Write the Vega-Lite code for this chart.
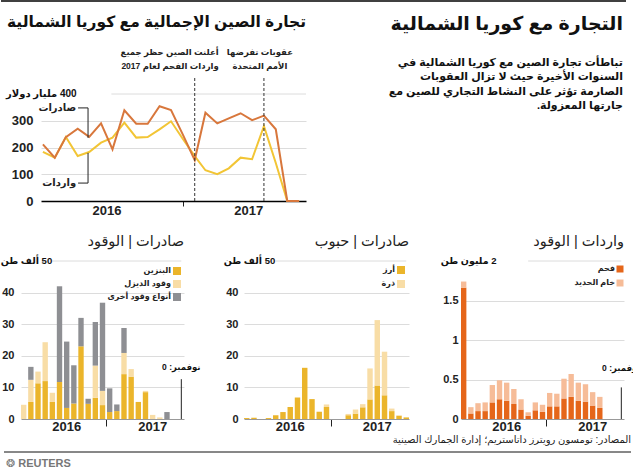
{
  "$schema": "https://vega.github.io/schema/vega-lite/v6.json",
  "padding": 0,
  "background": "#ffffff",
  "config": {"font": "Liberation Sans, DejaVu Sans, sans-serif", "view": {"stroke": null}},
  "datasets": {
    "trade": [
      {"d": "2016-01-01", "exp": 212, "imp": 184},
      {"d": "2016-02-01", "exp": 162, "imp": 162},
      {"d": "2016-03-01", "exp": 239, "imp": 239},
      {"d": "2016-04-01", "exp": 270, "imp": 168},
      {"d": "2016-05-01", "exp": 240, "imp": 183},
      {"d": "2016-06-01", "exp": 290, "imp": 218},
      {"d": "2016-07-01", "exp": 193, "imp": 237},
      {"d": "2016-08-01", "exp": 339, "imp": 293},
      {"d": "2016-09-01", "exp": 289, "imp": 237},
      {"d": "2016-10-01", "exp": 289, "imp": 239},
      {"d": "2016-11-01", "exp": 354, "imp": 268},
      {"d": "2016-12-01", "exp": 340, "imp": 298},
      {"d": "2017-01-01", "exp": 248, "imp": 232},
      {"d": "2017-02-01", "exp": 153, "imp": 168},
      {"d": "2017-03-01", "exp": 330, "imp": 115},
      {"d": "2017-04-01", "exp": 290, "imp": 100},
      {"d": "2017-05-01", "exp": 309, "imp": 122},
      {"d": "2017-06-01", "exp": 328, "imp": 162},
      {"d": "2017-07-01", "exp": 302, "imp": 156},
      {"d": "2017-08-01", "exp": 319, "imp": 280},
      {"d": "2017-09-01", "exp": 268, "imp": 142},
      {"d": "2017-10-01", "exp": 0, "imp": 0},
      {"d": "2017-11-01", "exp": 0, "imp": 0}
    ],
    "mon": [
      {"m": "2016-01", "gas": 0, "diesel": 4.5, "other": 0, "rice": 0.3, "corn": 0, "coal": 1.66, "iron": 0.08},
      {"m": "2016-02", "gas": 5.4, "diesel": 7.0, "other": 4.1, "rice": 0.4, "corn": 0, "coal": 0.07, "iron": 0.08},
      {"m": "2016-03", "gas": 11.3, "diesel": 3.7, "other": 0, "rice": 0, "corn": 0, "coal": 0.10, "iron": 0.10},
      {"m": "2016-04", "gas": 12.0, "diesel": 12.3, "other": 0, "rice": 0.3, "corn": 0, "coal": 0.10, "iron": 0.11},
      {"m": "2016-05", "gas": 5.4, "diesel": 2.9, "other": 0, "rice": 1.2, "corn": 0, "coal": 0.21, "iron": 0.22},
      {"m": "2016-06", "gas": 11.7, "diesel": 0, "other": 30.3, "rice": 2.2, "corn": 0, "coal": 0.25, "iron": 0.24},
      {"m": "2016-07", "gas": 3.5, "diesel": 0, "other": 21.0, "rice": 3.8, "corn": 0, "coal": 0.23, "iron": 0.23},
      {"m": "2016-08", "gas": 4.9, "diesel": 0, "other": 12.1, "rice": 6.8, "corn": 0, "coal": 0.19, "iron": 0.19},
      {"m": "2016-09", "gas": 23.0, "diesel": 0, "other": 9.0, "rice": 16.2, "corn": 0, "coal": 0.12, "iron": 0.13},
      {"m": "2016-10", "gas": 4.8, "diesel": 0, "other": 1.6, "rice": 6.3, "corn": 0, "coal": 0.04, "iron": 0.045},
      {"m": "2016-11", "gas": 6.7, "diesel": 10.2, "other": 13.8, "rice": 2.3, "corn": 0, "coal": 0.11, "iron": 0.10},
      {"m": "2016-12", "gas": 4.4, "diesel": 4.5, "other": 27.9, "rice": 3.8, "corn": 0.8, "coal": 0.09, "iron": 0.09},
      {"m": "2017-01", "gas": 2.2, "diesel": 0, "other": 7.5, "rice": 0, "corn": 0, "coal": 0.16, "iron": 0.17},
      {"m": "2017-02", "gas": 2.5, "diesel": 0, "other": 2.1, "rice": 0, "corn": 0, "coal": 0.16, "iron": 0.16},
      {"m": "2017-03", "gas": 14.2, "diesel": 6.7, "other": 7.9, "rice": 1.2, "corn": 0.4, "coal": 0.26, "iron": 0.25},
      {"m": "2017-04", "gas": 13.4, "diesel": 2.4, "other": 0, "rice": 1.7, "corn": 1.3, "coal": 0.28, "iron": 0.29},
      {"m": "2017-05", "gas": 5.4, "diesel": 0, "other": 0, "rice": 3.7, "corn": 1.0, "coal": 0.23, "iron": 0.23},
      {"m": "2017-06", "gas": 8.5, "diesel": 0.4, "other": 0, "rice": 6.2, "corn": 9.8, "coal": 0.22, "iron": 0.22},
      {"m": "2017-07", "gas": 0, "diesel": 1.3, "other": 0, "rice": 10.6, "corn": 20.7, "coal": 0.17, "iron": 0.17},
      {"m": "2017-08", "gas": 0, "diesel": 0.5, "other": 0, "rice": 7.5, "corn": 13.8, "coal": 0.14, "iron": 0.14},
      {"m": "2017-09", "gas": 0, "diesel": 0, "other": 2.2, "rice": 2.5, "corn": 0.8, "coal": 0, "iron": 0},
      {"m": "2017-10", "gas": 0, "diesel": 0, "other": 0, "rice": 1.0, "corn": 0.2, "coal": 0, "iron": 0},
      {"m": "2017-11", "gas": 0, "diesel": 0, "other": 0, "rice": 0.5, "corn": 0, "coal": 0, "iron": 0}
    ]
  },
  "bounds": "flush",
  "spacing": 0,
  "resolve": {"scale": {"x": "independent", "y": "independent", "color": "independent"}},
  "vconcat": [
    {"width": 605, "height": 93, "data": {"values": [{}]}, "mark": {"type": "rule", "color": "#000000", "strokeWidth": 1.5},
      "encoding": {"x": {"datum": -20, "type": "quantitative", "scale": {"domain": [0, 605], "nice": false, "zero": false}, "axis": null}, "x2": {"datum": 605},
        "y": {"datum": 1, "type": "quantitative", "scale": {"domain": [0, 1]}, "axis": null}}},
    {
      "bounds": "flush",
      "spacing": 0,
      "resolve": {"scale": {"x": "independent", "y": "independent", "color": "independent"}},
      "hconcat": [
        {"width": 20, "height": 107, "data": {"values": []}, "mark": "point", "encoding": {}},
        {
          "width": 265, "height": 107,
          "title": {"text": "تجارة الصين الإجمالية مع كوريا الشمالية", "anchor": "end", "frame": "group", "orient": "top", "offset": 17, "fontSize": 15.5, "fontWeight": "bold", "color": "#111111"},
          "layer": [
            {"data": {"name": "trade"},
              "transform": [{"calculate": "time(toDate(datum.d))", "as": "t"}, {"fold": ["imp", "exp"]}],
              "mark": {"type": "line", "strokeWidth": 2},
              "encoding": {
                "x": {"field": "t", "type": "quantitative", "scale": {"domain": [1451174400000, 1511049600000], "nice": false, "zero": false},
                  "axis": {"title": null, "values": [1465948800000, 1483228800000, 1498003200000], "labelExpr": "utcmonth(datum.value) == 0 ? '' : utcFormat(datum.value, '%Y')", "tickOpacity": {"condition": {"test": "utcmonth(datum.value) == 0", "value": 1}, "value": 0}, "ticks": true, "tickSize": 5, "tickColor": "#222222", "domain": true, "domainColor": "#000000", "domainWidth": 1.5, "grid": false, "labelFontSize": 13, "labelFontWeight": "bold", "labelColor": "#222222", "labelPadding": -2, "labelFlush": false, "labelOverlap": false}},
                "y": {"field": "value", "type": "quantitative", "scale": {"domain": [0, 400], "nice": false},
                  "axis": {"title": null, "values": [0, 100, 200, 300, 400], "tickCount": 5, "labelExpr": "datum.value == 400 ? '' : datum.label", "labelOverlap": false, "labelFontSize": 13, "labelFontWeight": "bold", "labelColor": "#222222", "labelPadding": 8, "domain": false, "ticks": false, "grid": true, "gridColor": "#dcdcdc", "gridOpacity": {"condition": {"test": "datum.value == 400 || datum.value == 0", "value": 0}, "value": 1}}},
                "color": {"field": "key", "type": "nominal", "scale": {"domain": ["imp", "exp"], "range": ["#f2c535", "#d8773c"]}, "legend": null}
              }},
            {"data": {"values": [{}]}, "mark": {"type": "rule", "color": "#dcdcdc", "strokeWidth": 1},
              "encoding": {
                "x": {"datum": 1467072000000, "type": "quantitative", "axis": {"title": null, "values": [1465948800000, 1483228800000, 1498003200000], "labelExpr": "utcmonth(datum.value) == 0 ? '' : utcFormat(datum.value, '%Y')", "tickOpacity": {"condition": {"test": "utcmonth(datum.value) == 0", "value": 1}, "value": 0}, "ticks": true, "tickSize": 5, "tickColor": "#222222", "domain": true, "domainColor": "#000000", "domainWidth": 1.5, "grid": false, "labelFontSize": 13, "labelFontWeight": "bold", "labelColor": "#222222", "labelPadding": -2, "labelFlush": false, "labelOverlap": false}},
                "x2": {"datum": 1511049600000},
                "y": {"datum": 400, "type": "quantitative", "axis": {"title": null, "values": [0, 100, 200, 300, 400], "tickCount": 5, "labelExpr": "datum.value == 400 ? '' : datum.label", "labelOverlap": false, "labelFontSize": 13, "labelFontWeight": "bold", "labelColor": "#222222", "labelPadding": 8, "domain": false, "ticks": false, "grid": true, "gridColor": "#dcdcdc", "gridOpacity": {"condition": {"test": "datum.value == 400 || datum.value == 0", "value": 0}, "value": 1}}}}},
            {"data": {"values": [{}]}, "mark": {"type": "rule", "color": "#333333", "strokeWidth": 1, "strokeDash": [3, 2]},
              "encoding": {
                "x": {"datum": 1485907200000, "type": "quantitative", "axis": {"title": null, "values": [1465948800000, 1483228800000, 1498003200000], "labelExpr": "utcmonth(datum.value) == 0 ? '' : utcFormat(datum.value, '%Y')", "tickOpacity": {"condition": {"test": "utcmonth(datum.value) == 0", "value": 1}, "value": 0}, "ticks": true, "tickSize": 5, "tickColor": "#222222", "domain": true, "domainColor": "#000000", "domainWidth": 1.5, "grid": false, "labelFontSize": 13, "labelFontWeight": "bold", "labelColor": "#222222", "labelPadding": -2, "labelFlush": false, "labelOverlap": false}},
                "y": {"datum": 0, "type": "quantitative", "axis": {"title": null, "values": [0, 100, 200, 300, 400], "tickCount": 5, "labelExpr": "datum.value == 400 ? '' : datum.label", "labelOverlap": false, "labelFontSize": 13, "labelFontWeight": "bold", "labelColor": "#222222", "labelPadding": 8, "domain": false, "ticks": false, "grid": true, "gridColor": "#dcdcdc", "gridOpacity": {"condition": {"test": "datum.value == 400 || datum.value == 0", "value": 0}, "value": 1}}},
                "y2": {"datum": 467}}},
            {"data": {"values": [{}]}, "mark": {"type": "rule", "color": "#333333", "strokeWidth": 1, "strokeDash": [3, 2]},
              "encoding": {
                "x": {"datum": 1501545600000, "type": "quantitative", "axis": {"title": null, "values": [1465948800000, 1483228800000, 1498003200000], "labelExpr": "utcmonth(datum.value) == 0 ? '' : utcFormat(datum.value, '%Y')", "tickOpacity": {"condition": {"test": "utcmonth(datum.value) == 0", "value": 1}, "value": 0}, "ticks": true, "tickSize": 5, "tickColor": "#222222", "domain": true, "domainColor": "#000000", "domainWidth": 1.5, "grid": false, "labelFontSize": 13, "labelFontWeight": "bold", "labelColor": "#222222", "labelPadding": -2, "labelFlush": false, "labelOverlap": false}},
                "y": {"datum": 0, "type": "quantitative", "axis": {"title": null, "values": [0, 100, 200, 300, 400], "tickCount": 5, "labelExpr": "datum.value == 400 ? '' : datum.label", "labelOverlap": false, "labelFontSize": 13, "labelFontWeight": "bold", "labelColor": "#222222", "labelPadding": 8, "domain": false, "ticks": false, "grid": true, "gridColor": "#dcdcdc", "gridOpacity": {"condition": {"test": "datum.value == 400 || datum.value == 0", "value": 0}, "value": 1}}},
                "y2": {"datum": 467}}},
            {"data": {"values": [{}]}, "mark": {"type": "rule", "color": "#222222", "strokeWidth": 1},
              "encoding": {
                "x": {"datum": 1461801600000, "type": "quantitative", "axis": {"title": null, "values": [1465948800000, 1483228800000, 1498003200000], "labelExpr": "utcmonth(datum.value) == 0 ? '' : utcFormat(datum.value, '%Y')", "tickOpacity": {"condition": {"test": "utcmonth(datum.value) == 0", "value": 1}, "value": 0}, "ticks": true, "tickSize": 5, "tickColor": "#222222", "domain": true, "domainColor": "#000000", "domainWidth": 1.5, "grid": false, "labelFontSize": 13, "labelFontWeight": "bold", "labelColor": "#222222", "labelPadding": -2, "labelFlush": false, "labelOverlap": false}},
                "y": {"datum": 348, "type": "quantitative", "axis": {"title": null, "values": [0, 100, 200, 300, 400], "tickCount": 5, "labelExpr": "datum.value == 400 ? '' : datum.label", "labelOverlap": false, "labelFontSize": 13, "labelFontWeight": "bold", "labelColor": "#222222", "labelPadding": 8, "domain": false, "ticks": false, "grid": true, "gridColor": "#dcdcdc", "gridOpacity": {"condition": {"test": "datum.value == 400 || datum.value == 0", "value": 0}, "value": 1}}},
                "y2": {"datum": 236}}},
            {"data": {"values": [{}]}, "mark": {"type": "rule", "color": "#222222", "strokeWidth": 1},
              "encoding": {
                "x": {"datum": 1459555200000, "type": "quantitative", "axis": {"title": null, "values": [1465948800000, 1483228800000, 1498003200000], "labelExpr": "utcmonth(datum.value) == 0 ? '' : utcFormat(datum.value, '%Y')", "tickOpacity": {"condition": {"test": "utcmonth(datum.value) == 0", "value": 1}, "value": 0}, "ticks": true, "tickSize": 5, "tickColor": "#222222", "domain": true, "domainColor": "#000000", "domainWidth": 1.5, "grid": false, "labelFontSize": 13, "labelFontWeight": "bold", "labelColor": "#222222", "labelPadding": -2, "labelFlush": false, "labelOverlap": false}},
                "x2": {"datum": 1461801600000},
                "y": {"datum": 348, "type": "quantitative", "axis": {"title": null, "values": [0, 100, 200, 300, 400], "tickCount": 5, "labelExpr": "datum.value == 400 ? '' : datum.label", "labelOverlap": false, "labelFontSize": 13, "labelFontWeight": "bold", "labelColor": "#222222", "labelPadding": 8, "domain": false, "ticks": false, "grid": true, "gridColor": "#dcdcdc", "gridOpacity": {"condition": {"test": "datum.value == 400 || datum.value == 0", "value": 0}, "value": 1}}}}},
            {"data": {"values": [{}]}, "mark": {"type": "rule", "color": "#222222", "strokeWidth": 1},
              "encoding": {
                "x": {"datum": 1461801600000, "type": "quantitative", "axis": {"title": null, "values": [1465948800000, 1483228800000, 1498003200000], "labelExpr": "utcmonth(datum.value) == 0 ? '' : utcFormat(datum.value, '%Y')", "tickOpacity": {"condition": {"test": "utcmonth(datum.value) == 0", "value": 1}, "value": 0}, "ticks": true, "tickSize": 5, "tickColor": "#222222", "domain": true, "domainColor": "#000000", "domainWidth": 1.5, "grid": false, "labelFontSize": 13, "labelFontWeight": "bold", "labelColor": "#222222", "labelPadding": -2, "labelFlush": false, "labelOverlap": false}},
                "y": {"datum": 67, "type": "quantitative", "axis": {"title": null, "values": [0, 100, 200, 300, 400], "tickCount": 5, "labelExpr": "datum.value == 400 ? '' : datum.label", "labelOverlap": false, "labelFontSize": 13, "labelFontWeight": "bold", "labelColor": "#222222", "labelPadding": 8, "domain": false, "ticks": false, "grid": true, "gridColor": "#dcdcdc", "gridOpacity": {"condition": {"test": "datum.value == 400 || datum.value == 0", "value": 0}, "value": 1}}},
                "y2": {"datum": 180}}},
            {"data": {"values": [{}]}, "mark": {"type": "rule", "color": "#222222", "strokeWidth": 1},
              "encoding": {
                "x": {"datum": 1459555200000, "type": "quantitative", "axis": {"title": null, "values": [1465948800000, 1483228800000, 1498003200000], "labelExpr": "utcmonth(datum.value) == 0 ? '' : utcFormat(datum.value, '%Y')", "tickOpacity": {"condition": {"test": "utcmonth(datum.value) == 0", "value": 1}, "value": 0}, "ticks": true, "tickSize": 5, "tickColor": "#222222", "domain": true, "domainColor": "#000000", "domainWidth": 1.5, "grid": false, "labelFontSize": 13, "labelFontWeight": "bold", "labelColor": "#222222", "labelPadding": -2, "labelFlush": false, "labelOverlap": false}},
                "x2": {"datum": 1461801600000},
                "y": {"datum": 67, "type": "quantitative", "axis": {"title": null, "values": [0, 100, 200, 300, 400], "tickCount": 5, "labelExpr": "datum.value == 400 ? '' : datum.label", "labelOverlap": false, "labelFontSize": 13, "labelFontWeight": "bold", "labelColor": "#222222", "labelPadding": 8, "domain": false, "ticks": false, "grid": true, "gridColor": "#dcdcdc", "gridOpacity": {"condition": {"test": "datum.value == 400 || datum.value == 0", "value": 0}, "value": 1}}}}},
            {"data": {"values": [{}]}, "mark": {"type": "text", "align": "right", "baseline": "middle", "fontSize": 10, "fontWeight": "bold", "color": "#222222"},
              "encoding": {
                "x": {"datum": 1459123200000, "type": "quantitative", "axis": {"title": null, "values": [1465948800000, 1483228800000, 1498003200000], "labelExpr": "utcmonth(datum.value) == 0 ? '' : utcFormat(datum.value, '%Y')", "tickOpacity": {"condition": {"test": "utcmonth(datum.value) == 0", "value": 1}, "value": 0}, "ticks": true, "tickSize": 5, "tickColor": "#222222", "domain": true, "domainColor": "#000000", "domainWidth": 1.5, "grid": false, "labelFontSize": 13, "labelFontWeight": "bold", "labelColor": "#222222", "labelPadding": -2, "labelFlush": false, "labelOverlap": false}},
                "y": {"datum": 348, "type": "quantitative", "axis": {"title": null, "values": [0, 100, 200, 300, 400], "tickCount": 5, "labelExpr": "datum.value == 400 ? '' : datum.label", "labelOverlap": false, "labelFontSize": 13, "labelFontWeight": "bold", "labelColor": "#222222", "labelPadding": 8, "domain": false, "ticks": false, "grid": true, "gridColor": "#dcdcdc", "gridOpacity": {"condition": {"test": "datum.value == 400 || datum.value == 0", "value": 0}, "value": 1}}},
                "text": {"value": "صادرات"}}},
            {"data": {"values": [{}]}, "mark": {"type": "text", "align": "right", "baseline": "middle", "fontSize": 10, "fontWeight": "bold", "color": "#222222"},
              "encoding": {
                "x": {"datum": 1459123200000, "type": "quantitative", "axis": {"title": null, "values": [1465948800000, 1483228800000, 1498003200000], "labelExpr": "utcmonth(datum.value) == 0 ? '' : utcFormat(datum.value, '%Y')", "tickOpacity": {"condition": {"test": "utcmonth(datum.value) == 0", "value": 1}, "value": 0}, "ticks": true, "tickSize": 5, "tickColor": "#222222", "domain": true, "domainColor": "#000000", "domainWidth": 1.5, "grid": false, "labelFontSize": 13, "labelFontWeight": "bold", "labelColor": "#222222", "labelPadding": -2, "labelFlush": false, "labelOverlap": false}},
                "y": {"datum": 67, "type": "quantitative", "axis": {"title": null, "values": [0, 100, 200, 300, 400], "tickCount": 5, "labelExpr": "datum.value == 400 ? '' : datum.label", "labelOverlap": false, "labelFontSize": 13, "labelFontWeight": "bold", "labelColor": "#222222", "labelPadding": 8, "domain": false, "ticks": false, "grid": true, "gridColor": "#dcdcdc", "gridOpacity": {"condition": {"test": "datum.value == 400 || datum.value == 0", "value": 0}, "value": 1}}},
                "text": {"value": "واردات"}}},
            {"data": {"values": [{}]}, "mark": {"type": "text", "align": "left", "baseline": "middle", "fontSize": 10, "fontWeight": "bold", "color": "#111111", "dx": -35},
              "encoding": {
                "x": {"datum": 1451174400000, "type": "quantitative", "axis": {"title": null, "values": [1465948800000, 1483228800000, 1498003200000], "labelExpr": "utcmonth(datum.value) == 0 ? '' : utcFormat(datum.value, '%Y')", "tickOpacity": {"condition": {"test": "utcmonth(datum.value) == 0", "value": 1}, "value": 0}, "ticks": true, "tickSize": 5, "tickColor": "#222222", "domain": true, "domainColor": "#000000", "domainWidth": 1.5, "grid": false, "labelFontSize": 13, "labelFontWeight": "bold", "labelColor": "#222222", "labelPadding": -2, "labelFlush": false, "labelOverlap": false}},
                "y": {"datum": 400, "type": "quantitative", "axis": {"title": null, "values": [0, 100, 200, 300, 400], "tickCount": 5, "labelExpr": "datum.value == 400 ? '' : datum.label", "labelOverlap": false, "labelFontSize": 13, "labelFontWeight": "bold", "labelColor": "#222222", "labelPadding": 8, "domain": false, "ticks": false, "grid": true, "gridColor": "#dcdcdc", "gridOpacity": {"condition": {"test": "datum.value == 400 || datum.value == 0", "value": 0}, "value": 1}}},
                "text": {"value": "\u200f400 مليار دولار"}}},
            {"data": {"values": [{}]}, "mark": {"type": "text", "align": "right", "baseline": "top", "fontSize": 8.5, "fontWeight": "bold", "color": "#222222", "lineBreak": "\n", "lineHeight": 14, "dx": 24},
              "encoding": {
                "x": {"datum": 1485907200000, "type": "quantitative", "axis": {"title": null, "values": [1465948800000, 1483228800000, 1498003200000], "labelExpr": "utcmonth(datum.value) == 0 ? '' : utcFormat(datum.value, '%Y')", "tickOpacity": {"condition": {"test": "utcmonth(datum.value) == 0", "value": 1}, "value": 0}, "ticks": true, "tickSize": 5, "tickColor": "#222222", "domain": true, "domainColor": "#000000", "domainWidth": 1.5, "grid": false, "labelFontSize": 13, "labelFontWeight": "bold", "labelColor": "#222222", "labelPadding": -2, "labelFlush": false, "labelOverlap": false}},
                "y": {"datum": 572, "type": "quantitative", "axis": {"title": null, "values": [0, 100, 200, 300, 400], "tickCount": 5, "labelExpr": "datum.value == 400 ? '' : datum.label", "labelOverlap": false, "labelFontSize": 13, "labelFontWeight": "bold", "labelColor": "#222222", "labelPadding": 8, "domain": false, "ticks": false, "grid": true, "gridColor": "#dcdcdc", "gridOpacity": {"condition": {"test": "datum.value == 400 || datum.value == 0", "value": 0}, "value": 1}}},
                "text": {"value": "أعلنت الصين حظر جميع\nواردات الفحم لعام 2017"}}},
            {"data": {"values": [{}]}, "mark": {"type": "text", "align": "center", "baseline": "top", "fontSize": 8.5, "fontWeight": "bold", "color": "#222222", "lineBreak": "\n", "lineHeight": 14, "dx": -4},
              "encoding": {
                "x": {"datum": 1501545600000, "type": "quantitative", "axis": {"title": null, "values": [1465948800000, 1483228800000, 1498003200000], "labelExpr": "utcmonth(datum.value) == 0 ? '' : utcFormat(datum.value, '%Y')", "tickOpacity": {"condition": {"test": "utcmonth(datum.value) == 0", "value": 1}, "value": 0}, "ticks": true, "tickSize": 5, "tickColor": "#222222", "domain": true, "domainColor": "#000000", "domainWidth": 1.5, "grid": false, "labelFontSize": 13, "labelFontWeight": "bold", "labelColor": "#222222", "labelPadding": -2, "labelFlush": false, "labelOverlap": false}},
                "y": {"datum": 572, "type": "quantitative", "axis": {"title": null, "values": [0, 100, 200, 300, 400], "tickCount": 5, "labelExpr": "datum.value == 400 ? '' : datum.label", "labelOverlap": false, "labelFontSize": 13, "labelFontWeight": "bold", "labelColor": "#222222", "labelPadding": 8, "domain": false, "ticks": false, "grid": true, "gridColor": "#dcdcdc", "gridOpacity": {"condition": {"test": "datum.value == 400 || datum.value == 0", "value": 0}, "value": 1}}},
                "text": {"value": "عقوبات تفرضها\nالأمم المتحدة"}}}
          ]
        },
        {"width": 10, "height": 107, "data": {"values": []}, "mark": "point", "encoding": {}},
        {"width": 307, "height": 107, "data": {"values": []}, "mark": "point", "encoding": {},
          "title": {"text": "التجارة مع كوريا الشمالية",
            "subtitle": ["تباطأت تجارة الصين مع كوريا الشمالية في", "السنوات الأخيرة حيث لا تزال العقوبات", "الصارمة تؤثر على النشاط التجاري للصين مع", "جارتها المعزولة.\u200f"],
            "anchor": "end", "frame": "group", "orient": "top", "offset": -17, "fontSize": 19, "fontWeight": "bold", "color": "#111111",
            "subtitleFontSize": 11, "subtitleFontWeight": "bold", "subtitleColor": "#111111", "subtitleLineHeight": 14.5, "subtitlePadding": 23}}
      ]
    },
    {"width": 1, "height": 167, "data": {"values": []}, "mark": "point", "encoding": {}},
    {
      "bounds": "flush",
      "spacing": 0,
      "resolve": {"scale": {"x": "independent", "y": "independent", "color": "independent"}},
      "hconcat": [
        {
          "width": 163, "height": 158,
          "title": {"text": "صادرات | الوقود", "anchor": "end", "frame": "group", "orient": "top", "offset": 6, "fontSize": 14.5, "fontWeight": "normal", "color": "#222222"},
          "layer": [
            {"data": {"name": "mon"},
              "transform": [{"fold": ["gas", "diesel", "other"]}, {"calculate": "indexof(['gas','diesel','other'], datum.key)", "as": "ord"}],
              "mark": {"type": "bar"},
              "encoding": {
                "x": {"field": "m", "type": "ordinal", "scale": {"paddingInner": 0.25, "paddingOuter": 0},
                  "axis": {"title": null, "values": ["2016-07", "2017-01", "2017-07"], "bandPosition": 0, "labelExpr": "datum.value == '2016-07' ? '2016' : (datum.value == '2017-07' ? '2017' : '')", "labelAngle": 0, "labelFontSize": 13, "labelFontWeight": "bold", "labelColor": "#222222", "labelPadding": -6, "labelFlush": false, "labelOverlap": false, "ticks": true, "tickSize": 7, "tickColor": "#222222", "tickOpacity": {"condition": {"test": "datum.value == '2017-01'", "value": 1}, "value": 0}, "domain": true, "domainColor": "#999999", "grid": false}},
                "y": {"field": "value", "type": "quantitative", "scale": {"domain": [0, 50], "nice": false},
                  "axis": {"title": null, "values": [0, 10, 20, 30, 40, 50], "tickCount": 6, "labelExpr": "datum.value == 50 ? '' : format(datum.value, '~g')", "labelOverlap": false, "labelFontSize": 11, "labelFontWeight": "bold", "labelColor": "#222222", "labelPadding": 7, "domain": false, "ticks": false, "grid": true, "gridColor": "#dcdcdc", "gridOpacity": {"condition": {"test": "datum.value == 50 || datum.value == 0", "value": 0}, "value": 1}}},
                "color": {"field": "key", "type": "nominal", "scale": {"domain": ["gas", "diesel", "other"], "range": ["#ebb52b", "#f8dda6", "#8e8f93"]},
                  "legend": {"orient": "none", "legendX": 152, "legendY": 6, "title": null, "direction": "vertical", "symbolType": "square", "symbolSize": 64, "symbolStrokeWidth": 0, "symbolOpacity": 1,
                    "labelAlign": "right", "labelOffset": -10, "labelFontSize": 8, "labelFontWeight": "bold", "labelColor": "#222222", "rowPadding": 5, "padding": 0,
                    "labelExpr": "datum.value == 'gas' ? 'البنزين' : (datum.value == 'diesel' ? 'وقود الديزل' : 'أنواع وقود أخرى')"}},
                "order": {"field": "ord", "type": "quantitative"}
              }},
            {"data": {"values": [{}]}, "mark": {"type": "rule", "color": "#dcdcdc", "strokeWidth": 1},
              "encoding": {
                "x": {"datum": "2016-05", "type": "ordinal", "axis": {"title": null, "values": ["2016-07", "2017-01", "2017-07"], "bandPosition": 0, "labelExpr": "datum.value == '2016-07' ? '2016' : (datum.value == '2017-07' ? '2017' : '')", "labelAngle": 0, "labelFontSize": 13, "labelFontWeight": "bold", "labelColor": "#222222", "labelPadding": -6, "labelFlush": false, "labelOverlap": false, "ticks": true, "tickSize": 7, "tickColor": "#222222", "tickOpacity": {"condition": {"test": "datum.value == '2017-01'", "value": 1}, "value": 0}, "domain": true, "domainColor": "#999999", "grid": false}},
                "x2": {"datum": "2017-11"},
                "y": {"datum": 50, "type": "quantitative", "axis": {"title": null, "values": [0, 10, 20, 30, 40, 50], "tickCount": 6, "labelExpr": "datum.value == 50 ? '' : format(datum.value, '~g')", "labelOverlap": false, "labelFontSize": 11, "labelFontWeight": "bold", "labelColor": "#222222", "labelPadding": 7, "domain": false, "ticks": false, "grid": true, "gridColor": "#dcdcdc", "gridOpacity": {"condition": {"test": "datum.value == 50 || datum.value == 0", "value": 0}, "value": 1}}}}},
            {"data": {"values": [{}]}, "mark": {"type": "text", "align": "left", "baseline": "middle", "fontSize": 9.5, "fontWeight": "bold", "color": "#111111", "dx": -23},
              "encoding": {
                "x": {"datum": "2016-01", "type": "ordinal", "axis": {"title": null, "values": ["2016-07", "2017-01", "2017-07"], "bandPosition": 0, "labelExpr": "datum.value == '2016-07' ? '2016' : (datum.value == '2017-07' ? '2017' : '')", "labelAngle": 0, "labelFontSize": 13, "labelFontWeight": "bold", "labelColor": "#222222", "labelPadding": -6, "labelFlush": false, "labelOverlap": false, "ticks": true, "tickSize": 7, "tickColor": "#222222", "tickOpacity": {"condition": {"test": "datum.value == '2017-01'", "value": 1}, "value": 0}, "domain": true, "domainColor": "#999999", "grid": false}},
                "y": {"datum": 50, "type": "quantitative", "axis": {"title": null, "values": [0, 10, 20, 30, 40, 50], "tickCount": 6, "labelExpr": "datum.value == 50 ? '' : format(datum.value, '~g')", "labelOverlap": false, "labelFontSize": 11, "labelFontWeight": "bold", "labelColor": "#222222", "labelPadding": 7, "domain": false, "ticks": false, "grid": true, "gridColor": "#dcdcdc", "gridOpacity": {"condition": {"test": "datum.value == 50 || datum.value == 0", "value": 0}, "value": 1}}},
                "text": {"value": "\u200f50 ألف طن"}}},
            {"data": {"values": [{}]}, "mark": {"type": "rule", "color": "#222222", "strokeWidth": 1},
              "encoding": {
                "x": {"datum": "2017-11", "type": "ordinal", "axis": {"title": null, "values": ["2016-07", "2017-01", "2017-07"], "bandPosition": 0, "labelExpr": "datum.value == '2016-07' ? '2016' : (datum.value == '2017-07' ? '2017' : '')", "labelAngle": 0, "labelFontSize": 13, "labelFontWeight": "bold", "labelColor": "#222222", "labelPadding": -6, "labelFlush": false, "labelOverlap": false, "ticks": true, "tickSize": 7, "tickColor": "#222222", "tickOpacity": {"condition": {"test": "datum.value == '2017-01'", "value": 1}, "value": 0}, "domain": true, "domainColor": "#999999", "grid": false}},
                "y": {"datum": 0, "type": "quantitative", "axis": {"title": null, "values": [0, 10, 20, 30, 40, 50], "tickCount": 6, "labelExpr": "datum.value == 50 ? '' : format(datum.value, '~g')", "labelOverlap": false, "labelFontSize": 11, "labelFontWeight": "bold", "labelColor": "#222222", "labelPadding": 7, "domain": false, "ticks": false, "grid": true, "gridColor": "#dcdcdc", "gridOpacity": {"condition": {"test": "datum.value == 50 || datum.value == 0", "value": 0}, "value": 1}}},
                "y2": {"datum": 12.6}}},
            {"data": {"values": [{}]}, "mark": {"type": "text", "align": "center", "baseline": "middle", "fontSize": 8.5, "fontWeight": "bold", "color": "#111111"},
              "encoding": {
                "x": {"datum": "2017-11", "type": "ordinal", "axis": {"title": null, "values": ["2016-07", "2017-01", "2017-07"], "bandPosition": 0, "labelExpr": "datum.value == '2016-07' ? '2016' : (datum.value == '2017-07' ? '2017' : '')", "labelAngle": 0, "labelFontSize": 13, "labelFontWeight": "bold", "labelColor": "#222222", "labelPadding": -6, "labelFlush": false, "labelOverlap": false, "ticks": true, "tickSize": 7, "tickColor": "#222222", "tickOpacity": {"condition": {"test": "datum.value == '2017-01'", "value": 1}, "value": 0}, "domain": true, "domainColor": "#999999", "grid": false}},
                "y": {"datum": 16.3, "type": "quantitative", "axis": {"title": null, "values": [0, 10, 20, 30, 40, 50], "tickCount": 6, "labelExpr": "datum.value == 50 ? '' : format(datum.value, '~g')", "labelOverlap": false, "labelFontSize": 11, "labelFontWeight": "bold", "labelColor": "#222222", "labelPadding": 7, "domain": false, "ticks": false, "grid": true, "gridColor": "#dcdcdc", "gridOpacity": {"condition": {"test": "datum.value == 50 || datum.value == 0", "value": 0}, "value": 1}}},
                "text": {"value": "نوفمبر: 0"}}}
          ]
        },
        {"width": 60, "height": 158, "data": {"values": []}, "mark": "point", "encoding": {}},
        {
          "width": 165, "height": 158,
          "title": {"text": "صادرات | حبوب", "anchor": "end", "frame": "group", "orient": "top", "offset": 6, "fontSize": 14.5, "fontWeight": "normal", "color": "#222222"},
          "layer": [
            {"data": {"name": "mon"},
              "transform": [{"fold": ["rice", "corn"]}, {"calculate": "indexof(['rice','corn'], datum.key)", "as": "ord"}],
              "mark": {"type": "bar"},
              "encoding": {
                "x": {"field": "m", "type": "ordinal", "scale": {"paddingInner": 0.25, "paddingOuter": 0},
                  "axis": {"title": null, "values": ["2016-07", "2017-01", "2017-07"], "bandPosition": 0, "labelExpr": "datum.value == '2016-07' ? '2016' : (datum.value == '2017-07' ? '2017' : '')", "labelAngle": 0, "labelFontSize": 13, "labelFontWeight": "bold", "labelColor": "#222222", "labelPadding": -6, "labelFlush": false, "labelOverlap": false, "ticks": true, "tickSize": 7, "tickColor": "#222222", "tickOpacity": {"condition": {"test": "datum.value == '2017-01'", "value": 1}, "value": 0}, "domain": true, "domainColor": "#999999", "grid": false}},
                "y": {"field": "value", "type": "quantitative", "scale": {"domain": [0, 50], "nice": false},
                  "axis": {"title": null, "values": [0, 10, 20, 30, 40, 50], "tickCount": 6, "labelExpr": "datum.value == 50 ? '' : format(datum.value, '~g')", "labelOverlap": false, "labelFontSize": 11, "labelFontWeight": "bold", "labelColor": "#222222", "labelPadding": 6, "domain": false, "ticks": false, "grid": true, "gridColor": "#dcdcdc", "gridOpacity": {"condition": {"test": "datum.value == 50 || datum.value == 0", "value": 0}, "value": 1}}},
                "color": {"field": "key", "type": "nominal", "scale": {"domain": ["rice", "corn"], "range": ["#ebb52b", "#f8dda6"]},
                  "legend": {"orient": "none", "legendX": 153, "legendY": 5, "title": null, "direction": "vertical", "symbolType": "square", "symbolSize": 64, "symbolStrokeWidth": 0, "symbolOpacity": 1,
                    "labelAlign": "right", "labelOffset": -10, "labelFontSize": 8, "labelFontWeight": "bold", "labelColor": "#222222", "rowPadding": 6, "padding": 0,
                    "labelExpr": "datum.value == 'rice' ? 'أرز' : 'ذرة'"}},
                "order": {"field": "ord", "type": "quantitative"}
              }},
            {"data": {"values": [{}]}, "mark": {"type": "rule", "color": "#dcdcdc", "strokeWidth": 1},
              "encoding": {
                "x": {"datum": "2016-05", "type": "ordinal", "axis": {"title": null, "values": ["2016-07", "2017-01", "2017-07"], "bandPosition": 0, "labelExpr": "datum.value == '2016-07' ? '2016' : (datum.value == '2017-07' ? '2017' : '')", "labelAngle": 0, "labelFontSize": 13, "labelFontWeight": "bold", "labelColor": "#222222", "labelPadding": -6, "labelFlush": false, "labelOverlap": false, "ticks": true, "tickSize": 7, "tickColor": "#222222", "tickOpacity": {"condition": {"test": "datum.value == '2017-01'", "value": 1}, "value": 0}, "domain": true, "domainColor": "#999999", "grid": false}},
                "x2": {"datum": "2017-11"},
                "y": {"datum": 50, "type": "quantitative", "axis": {"title": null, "values": [0, 10, 20, 30, 40, 50], "tickCount": 6, "labelExpr": "datum.value == 50 ? '' : format(datum.value, '~g')", "labelOverlap": false, "labelFontSize": 11, "labelFontWeight": "bold", "labelColor": "#222222", "labelPadding": 6, "domain": false, "ticks": false, "grid": true, "gridColor": "#dcdcdc", "gridOpacity": {"condition": {"test": "datum.value == 50 || datum.value == 0", "value": 0}, "value": 1}}}}},
            {"data": {"values": [{}]}, "mark": {"type": "text", "align": "left", "baseline": "middle", "fontSize": 9.5, "fontWeight": "bold", "color": "#111111", "dx": -23},
              "encoding": {
                "x": {"datum": "2016-01", "type": "ordinal", "axis": {"title": null, "values": ["2016-07", "2017-01", "2017-07"], "bandPosition": 0, "labelExpr": "datum.value == '2016-07' ? '2016' : (datum.value == '2017-07' ? '2017' : '')", "labelAngle": 0, "labelFontSize": 13, "labelFontWeight": "bold", "labelColor": "#222222", "labelPadding": -6, "labelFlush": false, "labelOverlap": false, "ticks": true, "tickSize": 7, "tickColor": "#222222", "tickOpacity": {"condition": {"test": "datum.value == '2017-01'", "value": 1}, "value": 0}, "domain": true, "domainColor": "#999999", "grid": false}},
                "y": {"datum": 50, "type": "quantitative", "axis": {"title": null, "values": [0, 10, 20, 30, 40, 50], "tickCount": 6, "labelExpr": "datum.value == 50 ? '' : format(datum.value, '~g')", "labelOverlap": false, "labelFontSize": 11, "labelFontWeight": "bold", "labelColor": "#222222", "labelPadding": 6, "domain": false, "ticks": false, "grid": true, "gridColor": "#dcdcdc", "gridOpacity": {"condition": {"test": "datum.value == 50 || datum.value == 0", "value": 0}, "value": 1}}},
                "text": {"value": "\u200f50 ألف طن"}}}
          ]
        },
        {"width": 52, "height": 158, "data": {"values": []}, "mark": "point", "encoding": {}},
        {
          "width": 163, "height": 158,
          "title": {"text": "واردات | الوقود", "anchor": "end", "frame": "group", "orient": "top", "offset": 6, "fontSize": 14.5, "fontWeight": "normal", "color": "#222222"},
          "layer": [
            {"data": {"name": "mon"},
              "transform": [{"fold": ["coal", "iron"]}, {"calculate": "indexof(['coal','iron'], datum.key)", "as": "ord"}],
              "mark": {"type": "bar"},
              "encoding": {
                "x": {"field": "m", "type": "ordinal", "scale": {"paddingInner": 0.25, "paddingOuter": 0},
                  "axis": {"title": null, "values": ["2016-07", "2017-01", "2017-07"], "bandPosition": 0, "labelExpr": "datum.value == '2016-07' ? '2016' : (datum.value == '2017-07' ? '2017' : '')", "labelAngle": 0, "labelFontSize": 13, "labelFontWeight": "bold", "labelColor": "#222222", "labelPadding": -6, "labelFlush": false, "labelOverlap": false, "ticks": true, "tickSize": 7, "tickColor": "#222222", "tickOpacity": {"condition": {"test": "datum.value == '2017-01'", "value": 1}, "value": 0}, "domain": true, "domainColor": "#999999", "grid": false}},
                "y": {"field": "value", "type": "quantitative", "scale": {"domain": [0, 2], "nice": false},
                  "axis": {"title": null, "values": [0, 0.5, 1, 1.5, 2], "tickCount": 5, "labelExpr": "datum.value == 2 ? '' : format(datum.value, '~g')", "labelOverlap": false, "labelFontSize": 11, "labelFontWeight": "bold", "labelColor": "#222222", "labelPadding": 3, "domain": false, "ticks": false, "grid": true, "gridColor": "#dcdcdc", "gridOpacity": {"condition": {"test": "datum.value == 2 || datum.value == 0", "value": 0}, "value": 1}}},
                "color": {"field": "key", "type": "nominal", "scale": {"domain": ["coal", "iron"], "range": ["#e5661a", "#f6bc98"]},
                  "legend": {"orient": "none", "legendX": 155, "legendY": 4, "title": null, "direction": "vertical", "symbolType": "square", "symbolSize": 49, "symbolStrokeWidth": 0, "symbolOpacity": 1,
                    "labelAlign": "right", "labelOffset": -9, "labelFontSize": 8, "labelFontWeight": "bold", "labelColor": "#222222", "rowPadding": 6, "padding": 0,
                    "labelExpr": "datum.value == 'coal' ? 'فحم' : 'خام الحديد'"}},
                "order": {"field": "ord", "type": "quantitative"}
              }},
            {"data": {"values": [{}]}, "mark": {"type": "rule", "color": "#dcdcdc", "strokeWidth": 1},
              "encoding": {
                "x": {"datum": "2016-10", "type": "ordinal", "axis": {"title": null, "values": ["2016-07", "2017-01", "2017-07"], "bandPosition": 0, "labelExpr": "datum.value == '2016-07' ? '2016' : (datum.value == '2017-07' ? '2017' : '')", "labelAngle": 0, "labelFontSize": 13, "labelFontWeight": "bold", "labelColor": "#222222", "labelPadding": -6, "labelFlush": false, "labelOverlap": false, "ticks": true, "tickSize": 7, "tickColor": "#222222", "tickOpacity": {"condition": {"test": "datum.value == '2017-01'", "value": 1}, "value": 0}, "domain": true, "domainColor": "#999999", "grid": false}},
                "x2": {"datum": "2017-11"},
                "y": {"datum": 2, "type": "quantitative", "axis": {"title": null, "values": [0, 0.5, 1, 1.5, 2], "tickCount": 5, "labelExpr": "datum.value == 2 ? '' : format(datum.value, '~g')", "labelOverlap": false, "labelFontSize": 11, "labelFontWeight": "bold", "labelColor": "#222222", "labelPadding": 3, "domain": false, "ticks": false, "grid": true, "gridColor": "#dcdcdc", "gridOpacity": {"condition": {"test": "datum.value == 2 || datum.value == 0", "value": 0}, "value": 1}}}}},
            {"data": {"values": [{}]}, "mark": {"type": "text", "align": "left", "baseline": "middle", "fontSize": 9.5, "fontWeight": "bold", "color": "#111111", "dx": -23},
              "encoding": {
                "x": {"datum": "2016-01", "type": "ordinal", "axis": {"title": null, "values": ["2016-07", "2017-01", "2017-07"], "bandPosition": 0, "labelExpr": "datum.value == '2016-07' ? '2016' : (datum.value == '2017-07' ? '2017' : '')", "labelAngle": 0, "labelFontSize": 13, "labelFontWeight": "bold", "labelColor": "#222222", "labelPadding": -6, "labelFlush": false, "labelOverlap": false, "ticks": true, "tickSize": 7, "tickColor": "#222222", "tickOpacity": {"condition": {"test": "datum.value == '2017-01'", "value": 1}, "value": 0}, "domain": true, "domainColor": "#999999", "grid": false}},
                "y": {"datum": 2, "type": "quantitative", "axis": {"title": null, "values": [0, 0.5, 1, 1.5, 2], "tickCount": 5, "labelExpr": "datum.value == 2 ? '' : format(datum.value, '~g')", "labelOverlap": false, "labelFontSize": 11, "labelFontWeight": "bold", "labelColor": "#222222", "labelPadding": 3, "domain": false, "ticks": false, "grid": true, "gridColor": "#dcdcdc", "gridOpacity": {"condition": {"test": "datum.value == 2 || datum.value == 0", "value": 0}, "value": 1}}},
                "text": {"value": "\u200f2 مليون طن"}}},
            {"data": {"values": [{}]}, "mark": {"type": "rule", "color": "#222222", "strokeWidth": 1},
              "encoding": {
                "x": {"datum": "2017-11", "type": "ordinal", "axis": {"title": null, "values": ["2016-07", "2017-01", "2017-07"], "bandPosition": 0, "labelExpr": "datum.value == '2016-07' ? '2016' : (datum.value == '2017-07' ? '2017' : '')", "labelAngle": 0, "labelFontSize": 13, "labelFontWeight": "bold", "labelColor": "#222222", "labelPadding": -6, "labelFlush": false, "labelOverlap": false, "ticks": true, "tickSize": 7, "tickColor": "#222222", "tickOpacity": {"condition": {"test": "datum.value == '2017-01'", "value": 1}, "value": 0}, "domain": true, "domainColor": "#999999", "grid": false}},
                "y": {"datum": 0, "type": "quantitative", "axis": {"title": null, "values": [0, 0.5, 1, 1.5, 2], "tickCount": 5, "labelExpr": "datum.value == 2 ? '' : format(datum.value, '~g')", "labelOverlap": false, "labelFontSize": 11, "labelFontWeight": "bold", "labelColor": "#222222", "labelPadding": 3, "domain": false, "ticks": false, "grid": true, "gridColor": "#dcdcdc", "gridOpacity": {"condition": {"test": "datum.value == 2 || datum.value == 0", "value": 0}, "value": 1}}},
                "y2": {"datum": 0.4}}},
            {"data": {"values": [{}]}, "mark": {"type": "text", "align": "center", "baseline": "middle", "fontSize": 8.5, "fontWeight": "bold", "color": "#111111"},
              "encoding": {
                "x": {"datum": "2017-11", "type": "ordinal", "axis": {"title": null, "values": ["2016-07", "2017-01", "2017-07"], "bandPosition": 0, "labelExpr": "datum.value == '2016-07' ? '2016' : (datum.value == '2017-07' ? '2017' : '')", "labelAngle": 0, "labelFontSize": 13, "labelFontWeight": "bold", "labelColor": "#222222", "labelPadding": -6, "labelFlush": false, "labelOverlap": false, "ticks": true, "tickSize": 7, "tickColor": "#222222", "tickOpacity": {"condition": {"test": "datum.value == '2017-01'", "value": 1}, "value": 0}, "domain": true, "domainColor": "#999999", "grid": false}},
                "y": {"datum": 0.65, "type": "quantitative", "axis": {"title": null, "values": [0, 0.5, 1, 1.5, 2], "tickCount": 5, "labelExpr": "datum.value == 2 ? '' : format(datum.value, '~g')", "labelOverlap": false, "labelFontSize": 11, "labelFontWeight": "bold", "labelColor": "#222222", "labelPadding": 3, "domain": false, "ticks": false, "grid": true, "gridColor": "#dcdcdc", "gridOpacity": {"condition": {"test": "datum.value == 2 || datum.value == 0", "value": 0}, "value": 1}}},
                "text": {"value": "نوفمبر: 0"}}}
          ]
        }
      ]
    },
    {"width": 1, "height": 179, "data": {"values": []}, "mark": "point", "encoding": {}},
    {"width": 610, "height": 12, "data": {"values": [{}]},
      "title": {"text": "❂ REUTERS", "orient": "bottom", "anchor": "start", "frame": "group", "offset": 5, "fontSize": 11, "fontWeight": "bold", "color": "#777777", "dx": -15},
      "layer": [
        {"mark": {"type": "rule", "color": "#111111", "strokeWidth": 1},
          "encoding": {"x": {"datum": -17, "type": "quantitative", "scale": {"domain": [0, 610], "nice": false, "zero": false}, "axis": null}, "x2": {"datum": 610},
            "y": {"datum": 0, "type": "quantitative", "scale": {"domain": [0, 1]}, "axis": null}}},
        {"mark": {"type": "text", "align": "right", "baseline": "middle", "fontSize": 10, "color": "#222222"},
          "encoding": {"x": {"datum": 610, "type": "quantitative", "axis": null}, "y": {"datum": 1, "type": "quantitative", "axis": null}, "text": {"value": "المصادر: تومسون رويترز داتاستريم؛ إدارة الجمارك الصينية"}}}
      ]}
  ]
}
